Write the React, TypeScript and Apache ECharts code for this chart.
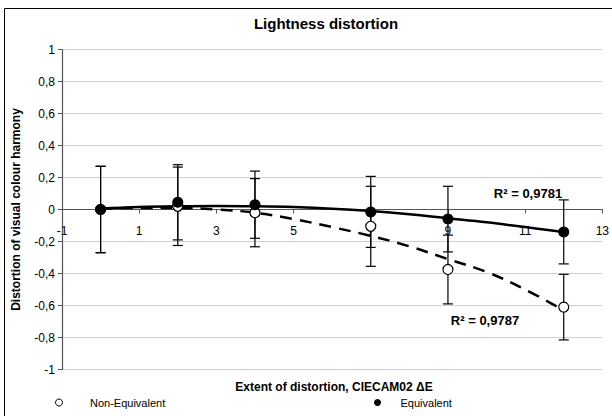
import React, { useEffect, useRef } from "react";
import * as echarts from "echarts";

const xValues = [0, 2, 4, 7, 9, 12];
const equivMeans = [0.0, 0.045, 0.03, -0.015, -0.06, -0.14];
const equivErr = [0.27, 0.235, 0.21, 0.222, 0.205, 0.2];
const nonEquivMeans = [0.0, 0.02, -0.02, -0.105, -0.375, -0.61];
const nonEquivErr = [0.27, 0.245, 0.213, 0.25, 0.215, 0.205];

// Trendlines (polynomial fits as drawn in the reference)
const trendX = [0, 1, 2, 3, 4, 5, 6, 7, 8, 9, 10, 11, 12];
const equivTrend = [0.005, 0.015, 0.02, 0.022, 0.02, 0.015, 0.005, -0.01, -0.03, -0.055, -0.08, -0.11, -0.14];
const nonEquivTrend = [0.005, 0.01, 0.01, 0.0, -0.02, -0.06, -0.11, -0.165, -0.23, -0.31, -0.39, -0.5, -0.63];

const yTicks = { min: -1, max: 1, step: 0.2 };
const xTickLabels = ["-1", "1", "3", "5", "7", "9", "11", "13"];
const equivR2 = "R² = 0,9781";
const nonEquivR2 = "R² = 0,9787";

const FONT = "Liberation Sans, Arial, sans-serif";

export default function App() {
  const ref = useRef<HTMLDivElement>(null);
  useEffect(() => {
    if (!ref.current) return;
    const chart = echarts.init(ref.current, null, { renderer: "svg" });

    const errData = (means: number[], errs: number[]) =>
      xValues.map((x, i) => [x, means[i] - errs[i], means[i] + errs[i]]);

    const renderErr = (params: any, api: any) => {
      const x = api.value(0);
      const lo = api.value(1);
      const hi = api.value(2);
      const top = api.coord([x, hi]);
      const bot = api.coord([x, lo]);
      const hw = 5;
      const st = { stroke: "#000", lineWidth: 1.2 };
      return {
        type: "group",
        children: [
          { type: "line", shape: { x1: top[0], y1: top[1], x2: bot[0], y2: bot[1] }, style: st },
          { type: "line", shape: { x1: top[0] - hw, y1: top[1], x2: top[0] + hw, y2: top[1] }, style: st },
          { type: "line", shape: { x1: bot[0] - hw, y1: bot[1], x2: bot[0] + hw, y2: bot[1] }, style: st },
        ],
      };
    };

    const option: any = {
      animation: false,
      textStyle: { fontFamily: FONT },
      grid: { left: 62, right: 6, top: 49.5, bottom: 46.5, containLabel: false },
      xAxis: [
        {
          type: "value",
          min: 0,
          max: 14,
          interval: 2,
          position: "bottom",
          offset: -160,
          axisLine: { show: true, onZero: false, lineStyle: { color: "#555", width: 1.2 } },
          axisTick: { show: true, length: 4, inside: false, lineStyle: { color: "#555" } },
          axisLabel: {
            margin: 15,
            fontSize: 12,
            color: "#000",
            fontFamily: FONT,
            formatter: (v: number) => xTickLabels[Math.round(v / 2)] ?? "",
          },
          splitLine: { show: false },
        },
        {
          type: "value",
          min: -1,
          max: 13,
          position: "top",
          show: false,
        },
      ],
      yAxis: {
        type: "value",
        min: yTicks.min,
        max: yTicks.max,
        interval: yTicks.step,
        name: "Distortion of visual colour harmony",
        nameLocation: "middle",
        nameGap: 40,
        nameTextStyle: { fontSize: 12, fontWeight: "bold", color: "#000", fontFamily: FONT },
        axisLine: { show: true, onZero: false, lineStyle: { color: "#555", width: 1.2 } },
        axisTick: { show: true, length: 4, lineStyle: { color: "#555" } },
        axisLabel: {
          fontSize: 12,
          color: "#000",
          margin: 7,
          fontFamily: FONT,
          formatter: (v: number) => String(Math.round(v * 10) / 10).replace(".", ","),
        },
        splitLine: { show: true, lineStyle: { color: "#d0d0d0", width: 1 } },
      },
      legend: [
        {
          data: ["Non-Equivalent"],
          left: 50,
          top: 392,
          itemWidth: 52,
          itemHeight: 7,
          icon: "circle",
          itemStyle: { borderWidth: 1 },
          textStyle: { fontSize: 11, color: "#000", fontFamily: FONT },
        },
        {
          data: ["Equivalent"],
          left: 369,
          top: 392,
          itemWidth: 36,
          itemHeight: 7,
          icon: "circle",
          textStyle: { fontSize: 11, color: "#000", fontFamily: FONT },
        },
      ],
      graphic: [
        {
          type: "rect",
          shape: { x: 4.5, y: 8.5, width: 700, height: 500 },
          style: { fill: "none", stroke: "#000", lineWidth: 1 },
          silent: true,
        },
        {
          type: "text",
          x: 326,
          y: 23,
          style: {
            text: "Lightness distortion",
            font: `bold 15px ${FONT}`,
            fill: "#000",
            textAlign: "center",
            textVerticalAlign: "middle",
          },
        },
        {
          type: "text",
          x: 334,
          y: 387,
          style: {
            text: "Extent of distortion, CIECAM02 ΔE",
            font: `bold 12px ${FONT}`,
            fill: "#000",
            textAlign: "center",
            textVerticalAlign: "middle",
          },
        },
        {
          type: "text",
          x: 528,
          y: 193,
          style: {
            text: equivR2,
            font: `bold 13px ${FONT}`,
            fill: "#000",
            textAlign: "center",
            textVerticalAlign: "middle",
          },
        },
        {
          type: "text",
          x: 485,
          y: 320,
          style: {
            text: nonEquivR2,
            font: `bold 13px ${FONT}`,
            fill: "#000",
            textAlign: "center",
            textVerticalAlign: "middle",
          },
        },
      ],
      series: [
        {
          type: "custom",
          xAxisIndex: 1,
          renderItem: renderErr,
          encode: { x: 0, y: [1, 2] },
          data: errData(nonEquivMeans, nonEquivErr),
          z: 2,
          silent: true,
        },
        {
          type: "custom",
          xAxisIndex: 1,
          renderItem: renderErr,
          encode: { x: 0, y: [1, 2] },
          data: errData(equivMeans, equivErr),
          z: 2,
          silent: true,
        },
        {
          type: "line",
          xAxisIndex: 1,
          data: trendX.map((x, i) => [x, nonEquivTrend[i]]),
          smooth: 0.4,
          showSymbol: false,
          symbol: "none",
          lineStyle: { color: "#000", width: 2.5, type: [12, 8] },
          z: 3,
          silent: true,
        },
        {
          type: "line",
          xAxisIndex: 1,
          data: trendX.map((x, i) => [x, equivTrend[i]]),
          smooth: 0.4,
          showSymbol: false,
          symbol: "none",
          lineStyle: { color: "#000", width: 2.5 },
          z: 3,
          silent: true,
        },
        {
          name: "Non-Equivalent",
          type: "scatter",
          xAxisIndex: 1,
          data: xValues.map((x, i) => [x, nonEquivMeans[i]]),
          symbol: "circle",
          symbolSize: 10,
          itemStyle: { color: "#fff", borderColor: "#000", borderWidth: 1.2, opacity: 1 },
          z: 4,
        },
        {
          name: "Equivalent",
          type: "scatter",
          xAxisIndex: 1,
          data: xValues.map((x, i) => [x, equivMeans[i]]),
          symbol: "circle",
          symbolSize: 11,
          itemStyle: { color: "#000", opacity: 1 },
          z: 5,
        },
      ],
    };

    chart.setOption(option);
    return () => chart.dispose();
  }, []);

  return (
    <div
      ref={ref}
      style={{ position: "fixed", left: 0, top: 0, width: 612, height: 416, background: "#fff" }}
    />
  );
}
